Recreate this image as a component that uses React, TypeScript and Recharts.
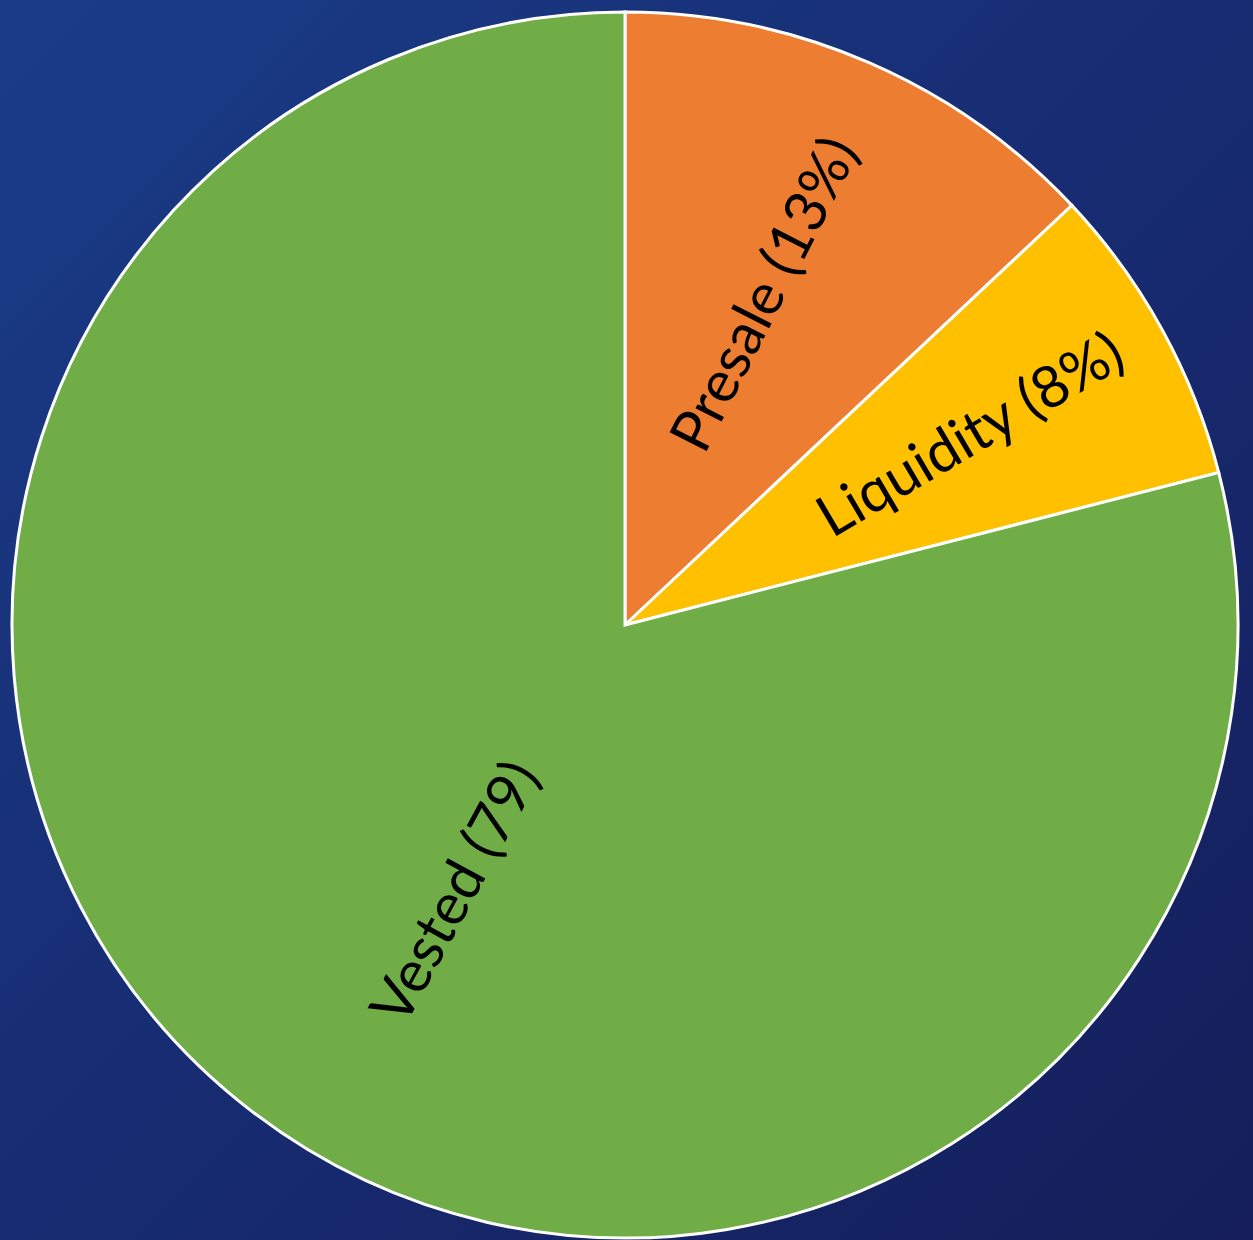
import React from "react";
import { PieChart, Pie, Cell } from "recharts";

const categories = ["Presale", "Liquidity", "Vested"];
const values = [13, 8, 79];
const labelTexts = ["Presale (13%)", "Liquidity (8%)", "Vested (79)"];

const colors = ["#ED7D31", "#FFC000", "#70AD47"];
// label placement styling (fraction of radius, angular nudge, rotation nudge)
const labelRadiusFraction = [0.586, 0.643, 0.517];
const labelAngleNudge = [1.0, 0.5, 4.9];
const labelRotationNudge = [3.6, -1.7, -9.3];

const data = categories.map((name, i) => ({ name, value: values[i] }));

const RADIAN = Math.PI / 180;

const renderLabel = (props: any) => {
  const { cx, cy, midAngle, outerRadius, index } = props;
  const r = outerRadius * labelRadiusFraction[index];
  const a = midAngle + labelAngleNudge[index];
  const x = cx + r * Math.cos(-a * RADIAN);
  const y = cy + r * Math.sin(-a * RADIAN);
  let rot = -midAngle;
  if (midAngle < -90 || midAngle > 270) rot = -(midAngle + 180);
  rot += labelRotationNudge[index];
  return (
    <text
      x={x}
      y={y}
      transform={`rotate(${rot}, ${x}, ${y})`}
      textAnchor="middle"
      dominantBaseline="central"
      fill="#000000"
      fontFamily="Lato, 'Open Sans', sans-serif"
      fontSize={58}
    >
      {labelTexts[index]}
    </text>
  );
};

export default function App() {
  return (
    <div
      style={{
        position: "absolute",
        left: 0,
        top: 0,
        width: 1253,
        height: 1240,
        background: "linear-gradient(135deg, #1a3c88 0%, #172c72 50%, #151e5a 100%)",
      }}
    >
      <PieChart width={1253} height={1240} margin={{ top: 0, right: 0, bottom: 0, left: 0 }}>
        <Pie
          data={data}
          dataKey="value"
          nameKey="name"
          cx={625}
          cy={625}
          outerRadius={613}
          startAngle={90}
          endAngle={-270}
          stroke="#ffffff"
          strokeWidth={3}
          label={renderLabel}
          labelLine={false}
          isAnimationActive={false}
        >
          {data.map((d, i) => (
            <Cell key={d.name} fill={colors[i]} />
          ))}
        </Pie>
      </PieChart>
    </div>
  );
}
